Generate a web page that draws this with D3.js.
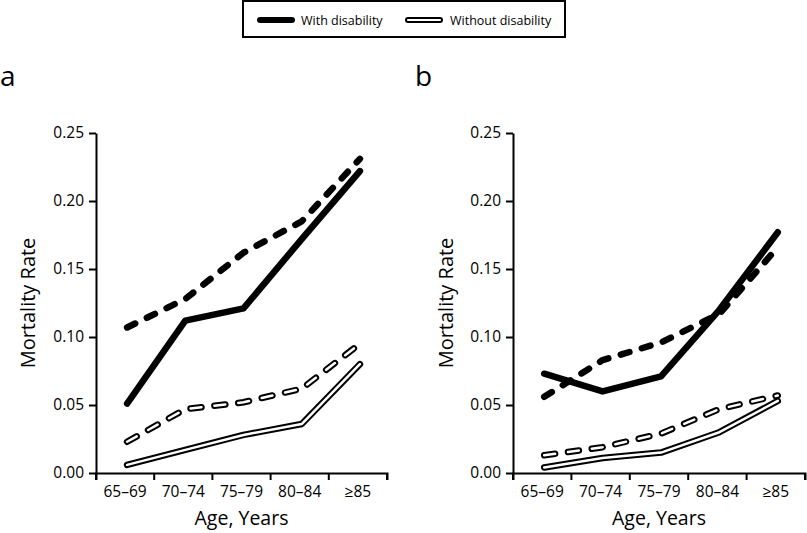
<!DOCTYPE html>
<html><head><meta charset="utf-8">
<script src="https://cdn.jsdelivr.net/npm/d3@7"></script>
<style>body{margin:0;background:#fff}svg{display:block}text{font-family:"Open Sans",sans-serif;fill:#000}</style>
</head><body><svg id="c" width="807" height="533"></svg>
<script>
const categories = ["65–69","70–74","75–79","80–84","≥85"];
const yTicks = [0,0.05,0.10,0.15,0.20,0.25];
// Panel a
const aWithSolid   = [0.051,0.112,0.121,0.172,0.222];
const aWithDashed  = [0.107,0.128,0.162,0.185,0.231];
const aWithoutSolid  = [0.006,0.017,0.028,0.036,0.080];
const aWithoutDashed = [0.023,0.047,0.052,0.062,0.095];
// Panel b
const bWithSolid   = [0.073,0.060,0.071,0.120,0.177];
const bWithDashed  = [0.056,0.083,0.096,0.117,0.166];
const bWithoutSolid  = [0.004,0.011,0.015,0.030,0.053];
const bWithoutDashed = [0.013,0.019,0.029,0.047,0.057];

const svg = d3.select("#c");

function panel(opts){
  const g = svg.append("g");
  const x = d3.scaleBand().domain(categories).range([opts.x0, opts.x1]);
  const y = d3.scaleLinear().domain([0,0.25]).range([473,133]);
  const xa = g.append("g").attr("transform","translate(0,473)")
    .call(d3.axisBottom(x).tickSizeOuter(0).tickSize(7).tickPadding(7).tickValues([]));
  const bounds = categories.map(c=>x(c)).concat([opts.x1]);
  g.append("g").selectAll("line").data(bounds).join("line")
    .attr("x1",d=>d).attr("x2",d=>d).attr("y1",473).attr("y2",480)
    .attr("stroke","#000").attr("stroke-width",2);
  g.append("g").selectAll("text").data(categories).join("text")
    .attr("x",d=>x(d)+x.bandwidth()/2).attr("y",497)
    .attr("text-anchor","middle").attr("font-size",15.5).text(d=>d);
  xa.select(".domain").attr("stroke-width",2);
  const ya = g.append("g").attr("transform",`translate(${opts.x0},0)`)
    .call(d3.axisLeft(y).tickValues(yTicks).tickFormat(d3.format(".2f")).tickSize(7).tickPadding(5).tickSizeOuter(0));
  ya.select(".domain").attr("stroke-width",2);
  ya.selectAll(".tick line").attr("stroke-width",2);
  ya.selectAll(".tick text").attr("font-size",15.5).attr("font-family","Open Sans");
  g.append("text").attr("x",(opts.x0+opts.x1)/2).attr("y",525).attr("text-anchor","middle")
    .attr("font-size",19.5).text("Age, Years");
  g.append("text").attr("transform",`translate(${opts.ylx},303) rotate(-90)`).attr("text-anchor","middle")
    .attr("font-size",20).text("Mortality Rate");
  g.append("text").attr("x",opts.lx).attr("y",86).attr("font-size",28).text(opts.label);

  const line = d3.line().x((d,i)=>x(categories[i])+x.bandwidth()/2+2).y(d=>y(d));
  function draw(vals, kind, dashed){
    const base = g.append("path").attr("d",line(vals)).attr("fill","none")
      .attr("stroke","#000").attr("stroke-linejoin","round").attr("stroke-linecap","round");
    if(kind==="with"){
      base.attr("stroke-width",6.5);
      if(dashed) base.attr("stroke-dasharray","9,13");
    } else {
      base.attr("stroke-width",6.5);
      const inner = g.append("path").attr("d",line(vals)).attr("fill","none")
        .attr("stroke","#fff").attr("stroke-width",2.5).attr("stroke-linejoin","round").attr("stroke-linecap","round");
      if(dashed){ base.attr("stroke-dasharray","11,13"); inner.attr("stroke-dasharray","11,13"); }
    }
  }
  draw(opts.wd,"with",true);
  draw(opts.ws,"with",false);
  draw(opts.nd,"without",true);
  draw(opts.ns,"without",false);
}

panel({x0:96,x1:387,ylx:35,lx:0,label:"a",ws:aWithSolid,wd:aWithDashed,ns:aWithoutSolid,nd:aWithoutDashed});
panel({x0:513,x1:805,ylx:453,lx:415,label:"b",ws:bWithSolid,wd:bWithDashed,ns:bWithoutSolid,nd:bWithoutDashed});

// Legend
const leg = svg.append("g");
leg.append("rect").attr("x",243).attr("y",1).attr("width",322).attr("height",36)
  .attr("fill","#fff").attr("stroke","#000").attr("stroke-width",2);
leg.append("line").attr("x1",260).attr("x2",292).attr("y1",20).attr("y2",20)
  .attr("stroke","#000").attr("stroke-width",6).attr("stroke-linecap","round");
leg.append("text").attr("x",301).attr("y",25).attr("font-size",12.5).text("With disability");
leg.append("line").attr("x1",408).attr("x2",440).attr("y1",20).attr("y2",20)
  .attr("stroke","#000").attr("stroke-width",6).attr("stroke-linecap","round");
leg.append("line").attr("x1",408).attr("x2",440).attr("y1",20).attr("y2",20)
  .attr("stroke","#fff").attr("stroke-width",2.2).attr("stroke-linecap","round");
leg.append("text").attr("x",450).attr("y",25).attr("font-size",12.5).text("Without disability");
</script></body></html>
